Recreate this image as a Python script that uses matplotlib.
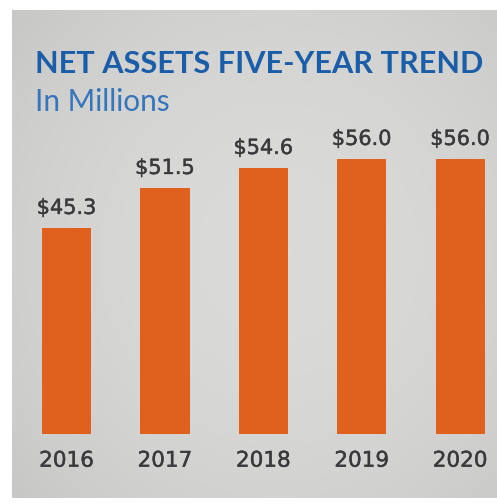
import numpy as np
import matplotlib
matplotlib.use("Agg")
import matplotlib.pyplot as plt
import matplotlib.patheffects as pe

# Data
years = ["2016", "2017", "2018", "2019", "2020"]
net_assets = [45.3, 51.5, 54.6, 56.0, 56.0]
value_labels = ["$45.3", "$51.5", "$54.6", "$56.0", "$56.0"]

title = "NET ASSETS FIVE-YEAR TREND"
subtitle = "In Millions"

W, H, DPI = 497, 504, 100
BAR = "#E0601E"
BLUE = "#1A5DA8"
LIGHT_BLUE = "#3475BC"
DARK = "#3A3A3C"
NUM_FONT = ["DejaVu Sans"]
# a thin outline gives the numbers a medium weight
MEDIUM = [pe.withStroke(linewidth=0.3, foreground=DARK)]

fig = plt.figure(figsize=(W / DPI, H / DPI), dpi=DPI, facecolor="white")

def fx(px):
    return px / W

def fy(py):
    return 1 - py / H

# Grey panel with a soft vignette
bg = fig.add_axes([fx(12), fy(498), fx(497 - 12), (498 - 10) / H])
yy, xx = np.mgrid[0:1:200j, 0:1:200j]
r = np.sqrt(((xx - 0.55) / 0.75) ** 2 + ((yy - 0.5) / 0.8) ** 2)
shade = 0.855 - 0.08 * np.clip(r, 0, 1.2) ** 2
rgb = np.dstack([shade, shade, shade * 0.995])
bg.imshow(rgb, aspect="auto", extent=(0, 1, 0, 1), interpolation="bilinear")
bg.set_axis_off()

# Bars
ax = fig.add_axes([fx(12), fy(434), fx(497 - 12), (434 - 100) / H])
ax.patch.set_alpha(0)
x = np.arange(len(years))
ax.bar(x, net_assets, width=0.5, color=BAR, zorder=2)
ax.set_xlim(-0.554, 4.375)
ax.set_ylim(13.3, 65.1)
for xi, v, lab in zip(x, net_assets, value_labels):
    ax.annotate(lab, (xi, v), xytext=(0, 7), textcoords="offset points",
                ha="center", va="bottom", fontsize=15, color=DARK,
                family=NUM_FONT, path_effects=MEDIUM)
ax.set_xticks(x)
ax.set_xticklabels(years, family=NUM_FONT, fontsize=15.5, color=DARK,
                   path_effects=MEDIUM)
ax.tick_params(axis="x", length=0, pad=12)
ax.set_yticks([])
for s in ax.spines.values():
    s.set_visible(False)

# Titles, sized to span the panel width
t = fig.text(fx(35), fy(73), title, ha="left", va="baseline", color=BLUE,
             family=["Lato", "DejaVu Sans"], fontweight="bold", fontsize=20)
renderer = fig.canvas.get_renderer()
w = t.get_window_extent(renderer).width
t.set_fontsize(20 * (483 - 35) / w)

st = fig.text(fx(35), fy(111), subtitle, ha="left", va="baseline",
              color=LIGHT_BLUE, family=["Lato", "DejaVu Sans"],
              fontweight="normal", fontsize=20)
w = st.get_window_extent(renderer).width
st.set_fontsize(20 * (170 - 35) / w)

fig.savefig("out.png", dpi=DPI, facecolor="white")
